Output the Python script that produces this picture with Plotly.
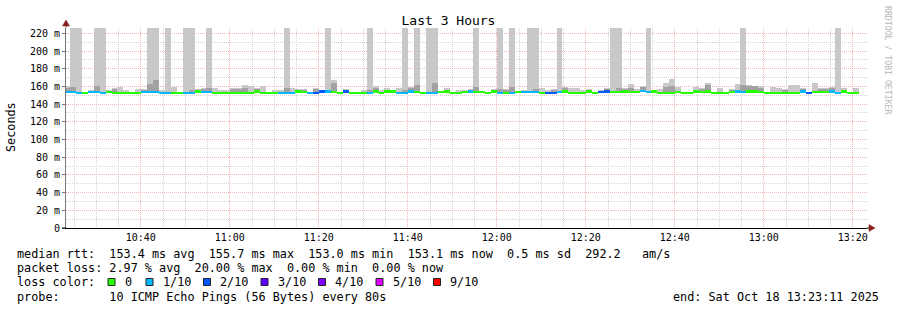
import numpy as np
import pandas as pd
import plotly.graph_objects as go

# ---------------- data ----------------
TITLE = "Last 3 Hours"
Y_LABEL = "Seconds"
FIRST_STEP = "2025-10-18 10:22:45"   # start of first (partial) 80 s step
STEP_SECONDS = 80
RANGE_START = "2025-10-18 10:23:11"
RANGE_END = "2025-10-18 13:23:11"

# smoke top (light), smoke top (dark), median rtt (ms), lost pings of 10
SMOKE_HI = [160, 240, 240, None, 156.5, 240, 240, 156.5, 158.6, 159.5,
            155.5, None, 157.0, 157.0, 240, 240, 156.0, 240, 159.8, None,
            240, 240, 157.0, 158.6, 240, 158.0, 156.0, 156.0, 157.9, 158.6,
            161.7, 161.0, 157.9, 160.6, None, 156.0, 156.5, 240, 158.6, 157.1,
            157.1, None, 158.0, None, 240, 167.3, None, 157.1, None, None,
            155.5, 240, 160.6, 156.0, 158.6, None, 158.6, 240, 159.8, 240,
            None, 240, 240, None, 158.6, None, 156.0, 156.0, 157.1, 240,
            None, None, 157.1, 240, 157.1, 240, None, 156.0, 240, 240,
            158.6, 156.0, 157.1, 240, 159.8, 157.9, 157.9, 156.0, 157.1, None,
            156.0, 157.9, 240, 240, 158.6, 162.5, 157.1, 160.6, 240, None,
            157.1, 163.6, 168.4, 159.8, None, None, 159.8, 157.9, 163.6, None,
            157.9, None, 157.1, 162.5, 240, 161.7, 160.6, 160.6, None, 159.8,
            157.9, 157.1, 161.7, 161.7, 157.9, None, 163.6, 157.9, 157.9, 159.8,
            240, 157.9, None, 157.9]
SMOKE_MID = [158, 159, None, None, None, 160, None, None, 157.5, None,
             None, None, None, 156.5, 163.0, 167.3, None, None, None, None,
             None, 156.0, None, 157.0, 158.6, None, None, None, 157.0, 157.5,
             158.0, None, 157.2, None, None, None, None, 157.9, None, 156.5,
             156.5, None, 157.0, None, None, 163.6, None, None, None, None,
             None, 156.0, 158.0, None, None, None, None, 156.0, 158.0, 161.7,
             None, None, 163.6, None, None, None, None, None, 156.5, 159.8,
             None, None, None, 157.1, 156.5, 159.8, None, None, None, 157.1,
             None, None, 156.5, None, 158.6, None, None, None, 156.5, None,
             None, 157.0, None, 158.6, 157.5, 158.0, None, 159.0, None, None,
             None, 159.8, 160.0, None, None, None, None, 157.0, 162.0, None,
             None, None, 156.5, None, 161.7, 160.0, 160.0, 158.0, None, None,
             None, 156.5, None, None, 157.0, None, None, 157.0, 157.0, 158.6,
             None, None, None, None]
MEDIAN = [153.7, 153.5, 152.8, 153.0, 153.2, 153.5, 152.8, 154.0, 153.0, 153.0,
          153.0, 153.0, 153.0, 153.5, 153.3, 153.3, 153.0, 153.0, 153.0, 153.0,
          153.0, 153.0, 154.2, 153.5, 153.5, 153.0, 153.0, 153.0, 153.0, 153.0,
          153.0, 153.0, 154.2, 153.0, 152.4, 153.0, 153.0, 153.0, 153.0, 154.2,
          154.0, 153.0, 153.0, 154.2, 154.2, 153.5, 153.0, 154.2, 153.0, 153.0,
          153.0, 153.0, 154.2, 153.0, 154.2, 154.2, 153.0, 153.0, 154.2, 153.7,
          153.0, 153.0, 153.0, 153.7, 154.2, 153.0, 153.0, 153.5, 154.2, 153.7,
          153.7, 152.4, 154.2, 152.6, 153.0, 153.0, 153.7, 153.7, 153.7, 153.7,
          153.0, 152.4, 153.0, 153.7, 154.2, 153.0, 153.0, 153.0, 154.2, 153.0,
          153.7, 154.2, 153.7, 153.7, 154.2, 154.0, 153.3, 154.5, 153.7, 154.2,
          153.0, 153.0, 153.0, 153.7, 153.0, 153.0, 154.2, 153.7, 154.2, 153.0,
          153.0, 153.0, 153.7, 154.2, 154.0, 154.2, 154.2, 153.5, 153.0, 153.0,
          153.0, 153.0, 153.0, 153.0, 154.2, 153.0, 153.7, 153.5, 153.5, 154.2,
          153.0, 154.2, 153.0, 153.0]
LOSS = [1, 1, 1, 0, 1, 1, 1, 0, 0, 0,
        0, 0, 0, 1, 1, 1, 1, 1, 0, 0,
        1, 1, 0, 1, 1, 0, 0, 0, 0, 0,
        0, 0, 0, 0, 0, 0, 1, 1, 1, 0,
        0, 1, 2, 2, 1, 0, 0, 2, 0, 0,
        0, 1, 0, 0, 0, 0, 1, 1, 1, 0,
        0, 1, 1, 0, 0, 0, 0, 0, 1, 0,
        0, 0, 0, 1, 0, 1, 0, 1, 1, 1,
        0, 2, 2, 1, 0, 0, 0, 0, 0, 0,
        2, 2, 0, 0, 0, 0, 0, 1, 1, 0,
        0, 0, 0, 0, 0, 0, 0, 0, 0, 0,
        0, 0, 0, 1, 1, 0, 0, 0, 0, 0,
        0, 0, 0, 0, 1, 2, 0, 0, 0, 1,
        1, 0, 0, 0]

LOSS_LABELS = ["0", "1/10", "2/10", "3/10", "4/10", "5/10", "9/10"]
LOSS_COLORS = ["#26ff00", "#00b8ff", "#0059ff", "#5e00ff", "#7e00ff", "#dd00ff", "#ff0000"]
LOSS_STEPS = [0, 1, 2, 3, 4, 5, 9]

Y_TICKS = [0, 20, 40, 60, 80, 100, 120, 140, 160, 180, 200, 220]
Y_TICK_TEXT = ["0", "20 m", "40 m", "60 m", "80 m", "100 m", "120 m", "140 m",
               "160 m", "180 m", "200 m", "220 m"]

LINE_MEDIAN = "median rtt:  153.4 ms avg  155.7 ms max  153.0 ms min  153.1 ms now  0.5 ms sd  292.2   am/s"
LINE_LOSS = "packet loss: 2.97 % avg  20.00 % max  0.00 % min  0.00 % now"
LINE_COLOR = "loss color:"
LINE_PROBE = "probe:       10 ICMP Echo Pings (56 Bytes) every 80s"
LINE_END = "end: Sat Oct 18 13:23:11 2025"
WATERMARK = "RRDTOOL / TOBI OETIKER"

# ---------------- figure ----------------
W, H = 897, 310
L, R, T, B = 66, 30, 28, 82
PW, PH = W - L - R, H - T - B
MONO = "DejaVu Sans Mono"
MED_THICK = 2.4

n = len(MEDIAN)
t = pd.Timestamp(FIRST_STEP) + pd.to_timedelta(np.arange(n) * STEP_SECONDS + STEP_SECONDS / 2, unit="s")
width_ms = STEP_SECONDS * 1000

med = np.array(MEDIAN, dtype=float)
base = med - MED_THICK / 2


def heights(tops):
    return [None if v is None else v - b for v, b in zip(tops, base)]


def loss_color(k):
    for step, col in zip(LOSS_STEPS, LOSS_COLORS):
        if k <= step:
            return col
    return LOSS_COLORS[-1]


fig = go.Figure()
fig.add_trace(go.Bar(x=t, y=heights(SMOKE_HI), base=base, width=width_ms,
                     marker=dict(color="#c8c8c8", line=dict(width=0)), hoverinfo="skip"))
fig.add_trace(go.Bar(x=t, y=heights(SMOKE_MID), base=base, width=width_ms,
                     marker=dict(color="#a2a2a2", line=dict(width=0)), hoverinfo="skip"))
fig.add_trace(go.Bar(x=t, y=[MED_THICK] * n, base=base, width=width_ms,
                     marker=dict(color=[loss_color(k) for k in LOSS], line=dict(width=0)),
                     hoverinfo="skip"))

grid_major = "#f6b4b4"
grid_minor = "#d4d4d4"

fig.update_layout(
    width=W, height=H, margin=dict(l=L, r=R, t=T, b=B),
    paper_bgcolor="white", plot_bgcolor="white",
    barmode="overlay", bargap=0, showlegend=False,
    title=dict(text=TITLE, x=0.5, xanchor="center", y=1 - 20 / H, yanchor="middle",
               font=dict(family=MONO, size=13, color="#000")),
    xaxis=dict(type="date", range=[RANGE_START, RANGE_END],
               tick0="2025-10-18 00:00:00", dtick=20 * 60 * 1000, tickformat="%H:%M",
               showgrid=True, gridcolor=grid_major, griddash="1px,1px", gridwidth=1,
               minor=dict(dtick=5 * 60 * 1000, tick0="2025-10-18 00:00:00", showgrid=True,
                          gridcolor=grid_minor, griddash="1px,1px", gridwidth=1),
               showline=True, linecolor="#000", linewidth=1, zeroline=False,
               ticks="", tickfont=dict(family=MONO, size=10, color="#000"), fixedrange=True),
    yaxis=dict(range=[0, 226], tickvals=Y_TICKS, ticktext=Y_TICK_TEXT,
               showgrid=True, gridcolor=grid_major, griddash="1px,1px", gridwidth=1,
               minor=dict(dtick=10, showgrid=True, gridcolor=grid_minor, griddash="1px,1px", gridwidth=1),
               showline=True, linecolor="#777", linewidth=1, zeroline=False,
               ticks="outside", ticklen=3, tickcolor="#777",
               tickfont=dict(family=MONO, size=10, color="#000"), fixedrange=True),
)


def px_x(p):
    return (p - L) / PW


def px_y(p):
    return (T + PH - p) / PH


def nb(s):
    return s.replace(" ", "\u00a0")


FS = 11.8
ann = []
ann.append(dict(x=px_x(11), y=px_y(127), xref="paper", yref="paper", text=Y_LABEL, textangle=-90,
                showarrow=False, font=dict(family=MONO, size=FS, color="#000"),
                xanchor="center", yanchor="middle"))
for txt, yy in [(LINE_MEDIAN, 254), (LINE_LOSS, 268), (LINE_COLOR, 282), (LINE_PROBE, 296.5)]:
    ann.append(dict(x=px_x(15), y=px_y(yy), xref="paper", yref="paper", text=nb(txt),
                    showarrow=False, font=dict(family=MONO, size=FS, color="#000"),
                    xanchor="left", yanchor="middle"))
ann.append(dict(x=px_x(881), y=px_y(296.5), xref="paper", yref="paper", text=nb(LINE_END),
                showarrow=False, font=dict(family=MONO, size=FS, color="#000"),
                xanchor="right", yanchor="middle"))
ann.append(dict(x=px_x(888), y=px_y(60), xref="paper", yref="paper", text=nb(WATERMARK),
                textangle=90, showarrow=False, font=dict(family=MONO, size=8.2, color="#b8b8b8"),
                xanchor="center", yanchor="middle"))

shapes = []
box_left = [108, 146, 203.5, 261, 318.5, 376, 433.5]
for bx, lab, col in zip(box_left, LOSS_LABELS, LOSS_COLORS):
    shapes.append(dict(type="rect", xref="paper", yref="paper",
                       x0=px_x(bx), x1=px_x(bx + 7), y0=px_y(285.5), y1=px_y(278.5),
                       fillcolor=col, line=dict(color="#222", width=1)))
    ann.append(dict(x=px_x(bx + 14.5), y=px_y(282), xref="paper", yref="paper", text=lab,
                    showarrow=False, font=dict(family=MONO, size=FS, color="#000"),
                    xanchor="left", yanchor="middle"))

# axis arrows
arrow_col = "#8b1c1c"
shapes.append(dict(type="line", xref="paper", yref="paper", x0=0, x1=0, y0=1, y1=px_y(23),
                   line=dict(color="#777", width=1)))
shapes.append(dict(type="path", xref="paper", yref="paper",
                   path=f"M {px_x(66)} {px_y(20)} L {px_x(62.5)} {px_y(26)} L {px_x(69.5)} {px_y(26)} Z",
                   fillcolor=arrow_col, line=dict(color=arrow_col, width=0.5)))
shapes.append(dict(type="line", xref="paper", yref="paper", x0=1, x1=px_x(870), y0=0, y1=0,
                   line=dict(color="#000", width=1)))
shapes.append(dict(type="path", xref="paper", yref="paper",
                   path=f"M {px_x(875)} {px_y(228)} L {px_x(869)} {px_y(224.5)} L {px_x(869)} {px_y(231.5)} Z",
                   fillcolor=arrow_col, line=dict(color=arrow_col, width=0.5)))
shapes.append(dict(type="line", xref="paper", yref="paper", x0=px_x(62), x1=0, y0=0, y1=0,
                   line=dict(color="#000", width=1)))

fig.update_layout(annotations=ann, shapes=shapes)
fig.write_html("out.html", config={"displayModeBar": False})
